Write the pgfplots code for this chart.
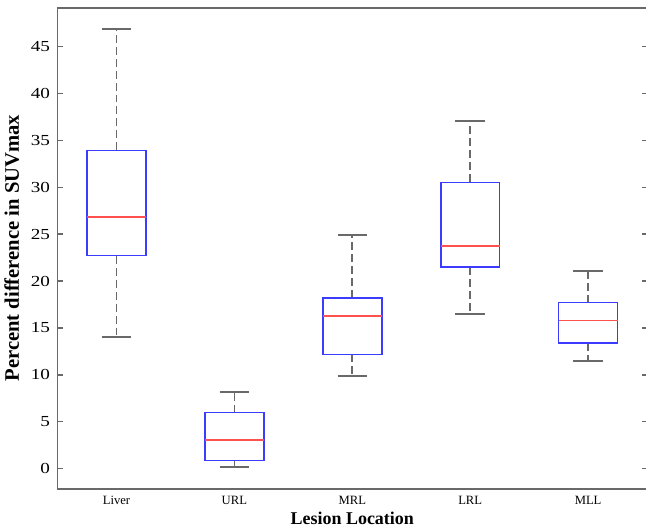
\documentclass[border={0pt -2pt -1.5pt 5pt}]{standalone}
\usepackage{fontspec}
\setmainfont{Liberation Serif}
\usepackage{pgfplots}
\pgfplotsset{compat=1.18}
\usepgfplotslibrary{statistics}

\definecolor{axgray}{RGB}{105,105,105}
\definecolor{wgray}{RGB}{105,105,105}
\definecolor{boxblue}{RGB}{60,60,255}
\definecolor{medred}{RGB}{255,80,80}

\pgfplotsset{
  mybox/.style={
    boxplot/draw direction=y,
    boxplot/box extend=0.5,
    boxplot/whisker extend=0.25,
    boxplot/every box/.style={draw=boxblue, line width=1.2pt},
    boxplot/every median/.style={draw=medred, line width=1.2pt},
    boxplot/draw/lower whisker/.code={
      \draw[wgray, line width=1.3pt, dash pattern=on 6pt off 3pt]
        (boxplot box cs:\pgfplotsboxplotvalue{lower quartile},0.5) --
        (boxplot box cs:\pgfplotsboxplotvalue{lower whisker},0.5);
      \draw[wgray, line width=1.5pt]
        (boxplot whisker cs:\pgfplotsboxplotvalue{lower whisker},0) --
        (boxplot whisker cs:\pgfplotsboxplotvalue{lower whisker},1);
    },
    boxplot/draw/upper whisker/.code={
      \draw[wgray, line width=1.3pt, dash pattern=on 6pt off 3pt]
        (boxplot box cs:\pgfplotsboxplotvalue{upper quartile},0.5) --
        (boxplot box cs:\pgfplotsboxplotvalue{upper whisker},0.5);
      \draw[wgray, line width=1.5pt]
        (boxplot whisker cs:\pgfplotsboxplotvalue{upper whisker},0) --
        (boxplot whisker cs:\pgfplotsboxplotvalue{upper whisker},1);
    },
  },
}

\begin{document}
\begin{tikzpicture}
\begin{axis}[
  scale only axis, width=443pt, height=361.5pt,
  xmin=0.5, xmax=5.5, ymin=-2.1, ymax=49.1,
  xtick={1,2,3,4,5},
  xticklabels={Liver,URL,MRL,LRL,MLL},
  ytick={0,5,...,45},
  x tick style={draw=none},
  y tick style={axgray, line width=0.8pt},
  major tick length=4pt,
  tick align=inside,
  axis line style={axgray, line width=1.4pt},
  xticklabel style={font=\fontsize{9.5}{11}\selectfont, yshift=-2pt},
  yticklabel style={font=\fontsize{11.5}{13}\selectfont, xscale=1.25, xshift=-1pt},
  /pgf/number format/assume math mode=true,
  xlabel={\textbf{Lesion Location}},
  ylabel={\textbf{Percent difference in SUVmax}},
  xlabel style={font=\fontsize{13.5}{15}\selectfont, yshift=1pt},
  ylabel style={font=\fontsize{15.5}{17}\selectfont, yshift=1pt},
]
\addplot[mybox, boxplot prepared={draw position=1,
  lower whisker=14.0, lower quartile=22.7, median=26.8,
  upper quartile=33.9, upper whisker=46.8}] coordinates {};
\addplot[mybox, boxplot prepared={draw position=2,
  lower whisker=0.2, lower quartile=0.9, median=3.1,
  upper quartile=6.0, upper whisker=8.2}] coordinates {};
\addplot[mybox, boxplot prepared={draw position=3,
  lower whisker=9.9, lower quartile=12.2, median=16.3,
  upper quartile=18.2, upper whisker=24.9}] coordinates {};
\addplot[mybox, boxplot prepared={draw position=4,
  lower whisker=16.5, lower quartile=21.5, median=23.7,
  upper quartile=30.5, upper whisker=37.0}] coordinates {};
\addplot[mybox, boxplot prepared={draw position=5,
  lower whisker=11.5, lower quartile=13.4, median=15.8,
  upper quartile=17.7, upper whisker=21.1}] coordinates {};
\end{axis}
\end{tikzpicture}
\end{document}
